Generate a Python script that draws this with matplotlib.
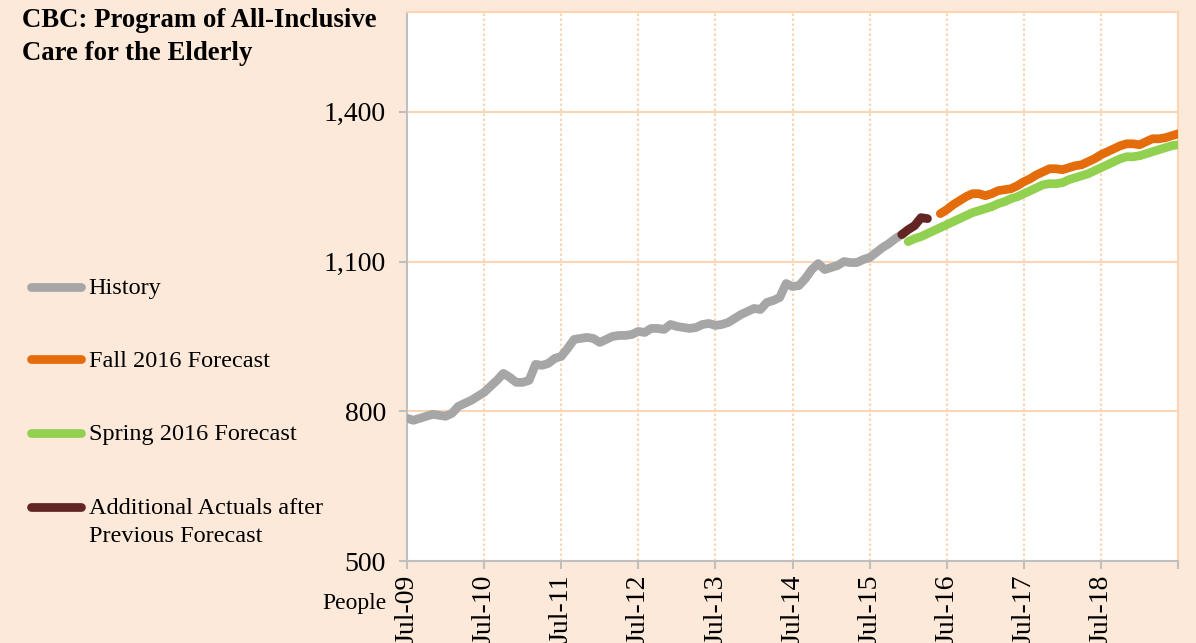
"""CBC: Program of All-Inclusive Care for the Elderly - caseload history and forecasts."""
import matplotlib
matplotlib.use("Agg")
import matplotlib.pyplot as plt
from matplotlib.lines import Line2D
from matplotlib.ticker import FuncFormatter

plt.rcParams["font.family"] = ["Liberation Serif", "DejaVu Serif"]

# Months counted from Jul-09 (0) to Jul-19 (120)
history_start = 0
history = [786, 782, 786, 790, 794, 792, 790, 796, 810, 816, 822, 830, 838, 850, 862, 876,
           868, 858, 858, 862, 894, 892, 896, 906, 910, 926, 944, 946, 948, 946, 938, 944,
           950, 952, 952, 954, 960, 958, 966, 966, 964, 974, 970, 968, 966, 968, 974, 976,
           972, 974, 978, 986, 994, 1000, 1006, 1004, 1018, 1022, 1028, 1056, 1050, 1052,
           1066, 1084, 1096, 1084, 1088, 1092, 1100, 1098, 1098, 1104, 1108, 1118, 1128,
           1136, 1146, 1154]

actuals_start = 77
actuals = [1154, 1164, 1172, 1188, 1186]

fall_start = 83
fall_2016 = [1196, 1204, 1214, 1222, 1230, 1236, 1236, 1232, 1236, 1242, 1244, 1246, 1252,
             1260, 1266, 1274, 1280, 1286, 1286, 1284, 1288, 1292, 1294, 1300, 1306, 1314,
             1320, 1326, 1332, 1336, 1336, 1334, 1340, 1346, 1346, 1348, 1352, 1356]

spring_start = 78
spring_2016 = [1140, 1146, 1150, 1156, 1162, 1168, 1174, 1180, 1186, 1192, 1198, 1202, 1206,
               1210, 1216, 1220, 1226, 1230, 1236, 1242, 1248, 1254, 1256, 1256, 1258, 1264,
               1268, 1272, 1276, 1282, 1288, 1294, 1300, 1306, 1310, 1310, 1312, 1316, 1320,
               1324, 1328, 1332, 1334]

tick_labels = ["Jul-09", "Jul-10", "Jul-11", "Jul-12", "Jul-13", "Jul-14",
               "Jul-15", "Jul-16", "Jul-17", "Jul-18"]
y_ticks = [500, 800, 1100, 1400]

series = [
    ("History", history_start, history, "#A6A6A6"),
    ("Fall 2016 Forecast", fall_start, fall_2016, "#E46C0A"),
    ("Spring 2016 Forecast", spring_start, spring_2016, "#92D050"),
    ("Additional Actuals after\nPrevious Forecast", actuals_start, actuals, "#632523"),
]

BG = "#FDE9D9"
GRID = "#FCD5B4"
AXIS = "#BFBFBF"
LW = 6.3

fig = plt.figure(figsize=(11.96, 6.43), dpi=100, facecolor=BG)
ax = fig.add_axes([0.3403, 0.1275, 0.6447, 0.8538])
ax.set_facecolor("white")

# Draw order: history, spring, fall, actuals on top
for idx in [0, 2, 1, 3]:
    _, start, values, color = series[idx]
    xs = list(range(start, start + len(values)))
    ax.plot(xs, values, color=color, lw=LW, solid_capstyle="round",
            solid_joinstyle="round", zorder=3)

ax.set_xlim(0, 120)
ax.set_ylim(500, 1600)

ax.set_yticks(y_ticks)
ax.yaxis.set_major_formatter(FuncFormatter(lambda v, _: f"{int(v):,}"))
ax.set_xticks(list(range(0, 121, 12)))
ax.set_xticklabels(tick_labels + [""], rotation=90, va="top")

ax.tick_params(axis="both", colors=AXIS, labelcolor="black", labelsize=20,
               length=6, width=1.5, direction="out")
ax.tick_params(axis="y", pad=9)
ax.tick_params(axis="x", pad=4)

# Gridlines
for y in y_ticks[1:]:
    ax.axhline(y, color=GRID, lw=1.5, zorder=1)
for x in range(12, 120, 12):
    ax.axvline(x, color=GRID, lw=1.5, ls=(0, (1.2, 1.2)), zorder=1)

for side in ["top", "right"]:
    ax.spines[side].set_color(GRID)
    ax.spines[side].set_linewidth(1.5)
for side in ["left", "bottom"]:
    ax.spines[side].set_color(AXIS)
    ax.spines[side].set_linewidth(1.5)

# Title and axis unit
fig.text(0.018, 0.987, "CBC: Program of All-Inclusive\nCare for the Elderly",
         fontsize=19.3, fontweight="bold", va="top", ha="left", linespacing=1.38)
fig.text(0.323, 0.062, "People", fontsize=17, ha="right", va="center")

# Legend drawn at the left side; each text line placed on its own baseline
legend_y = [0.554, 0.442, 0.327, 0.212]
line_step = 28 / 643
for (name, _, _, color), ly in zip(series, legend_y):
    fig.add_artist(Line2D([0.026, 0.068], [ly, ly], transform=fig.transFigure,
                          color=color, lw=LW, solid_capstyle="round"))
    for i, part in enumerate(name.split("\n")):
        fig.text(0.074, ly - 0.012 - i * line_step, part, fontsize=17.5,
                 va="baseline", ha="left")

fig.savefig("out.png", dpi=100, facecolor=BG)
